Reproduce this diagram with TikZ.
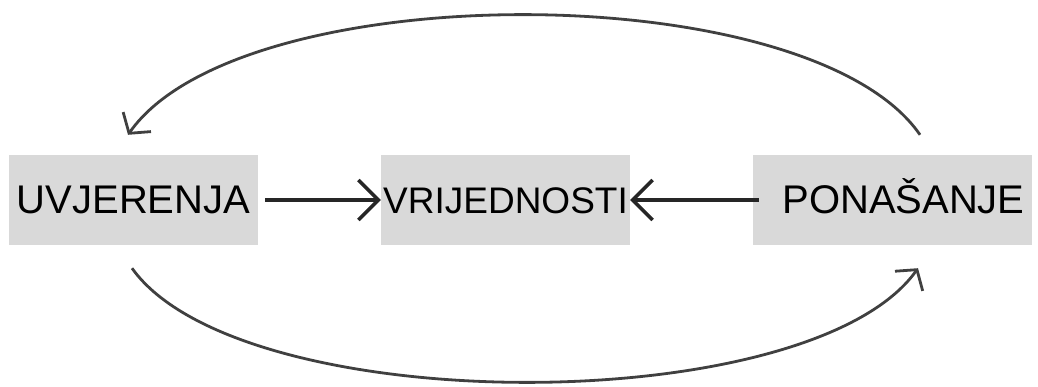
\documentclass[tikz,border=0pt]{standalone}
\usepackage{fontspec}
\setmainfont{Liberation Sans}
\usetikzlibrary{arrows.meta}
\begin{document}
\begin{tikzpicture}[x=1pt,y=-1pt,
    box/.style={fill=black!15, minimum width=249pt, minimum height=90pt, inner sep=0pt,
        text height=28pt, text depth=0pt, font=\fontsize{40}{46}\selectfont},
    flow/.style={line width=3.4pt, black!85, -{Straight Barb[length=20pt,width=40pt,line width=3.4pt]}},
    loop/.style={line width=2.8pt, black!75, -{Straight Barb[length=14pt,width=34pt,line width=2.8pt]}}]
    \useasboundingbox (0,0) rectangle (1038,387);
    \node[box] (uvj) at (133.5,200) {UVJERENJA};
    \node[box, font=\fontsize{37}{44}\selectfont] (vri) at (505.5,200) {VRIJEDNOSTI};
    \node[box, minimum width=279pt] (pon) at (892.5,200) {\hspace{22pt}PONAŠANJE};
    \draw[flow, shorten <=7pt] (uvj) -- (vri);
    \draw[flow, shorten <=-6pt] (pon) -- (vri);
    \draw[loop] ([xshift=27.5pt,yshift=20pt]pon.north) .. controls (810,-25) and (240,-25) .. ([xshift=-5.5pt,yshift=20pt]uvj.north);
    \draw[loop] ([xshift=-1.5pt,yshift=-23pt]uvj.south) .. controls (240,420) and (810,420) .. ([xshift=25.5pt,yshift=-23pt]pon.south);
\end{tikzpicture}
\end{document}
